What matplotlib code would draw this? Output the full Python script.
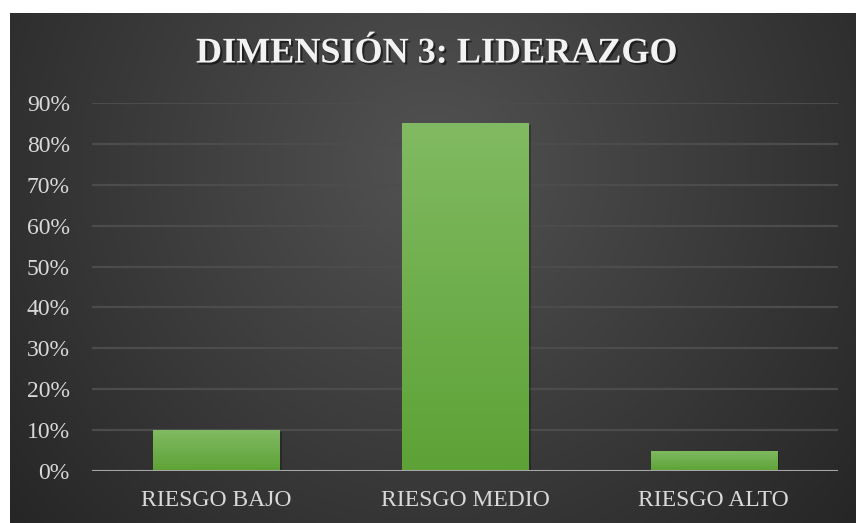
import numpy as np
import matplotlib
matplotlib.use("Agg")
import matplotlib.pyplot as plt
import matplotlib.patheffects as pe
from matplotlib.colors import LinearSegmentedColormap

categories = ["RIESGO BAJO", "RIESGO MEDIO", "RIESGO ALTO"]
values = [0.10, 0.85, 0.05]
yticks = [0, 0.1, 0.2, 0.3, 0.4, 0.5, 0.6, 0.7, 0.8, 0.9]
ytick_labels = ["0%", "10%", "20%", "30%", "40%", "50%", "60%", "70%", "80%", "90%"]
title = "DIMENSIÓN 3: LIDERAZGO"

W, H = 856, 523
fig = plt.figure(figsize=(W / 100, H / 100), dpi=100, facecolor="white")

# dark radial background panel
x0, y0 = 10 / W, 0
bg = fig.add_axes([x0, y0, 1 - x0, (H - 13) / H])
bg.set_axis_off()
nx, ny = 400, 250
xx, yy = np.meshgrid(np.linspace(0, 1, nx), np.linspace(0, 1, ny))
aspect = (W - 10) / (H - 13)
r = np.sqrt(((xx - 0.5) * aspect) ** 2 + (yy - 0.3) ** 2) / np.sqrt((0.5 * aspect) ** 2 + 0.7 ** 2)
r = np.clip(r, 0, 1)
cmap_bg = LinearSegmentedColormap.from_list("bg", ["#525252", "#3c3c3c", "#262626"])
bg.imshow(r, cmap=cmap_bg, aspect="auto", extent=[0, 1, 1, 0], vmin=0, vmax=1)
bg.set_xlim(0, 1)
bg.set_ylim(1, 0)

# plot axes
left, right = 92 / W, 838 / W
bottom, top = 1 - 471 / H, 1 - 103 / H
ax = fig.add_axes([left, bottom, right - left, (top - bottom)])
ax.patch.set_alpha(0)
ax.set_ylim(0, 0.9)
ax.set_xlim(-0.5, 2.5)
ax.set_yticks(yticks)
ax.set_yticklabels(ytick_labels)
ax.set_xticks(range(len(categories)))
ax.set_xticklabels(categories)
for s in ax.spines.values():
    s.set_visible(False)
ax.tick_params(axis="both", length=0, colors="#d9d9d9", labelsize=17)
ax.tick_params(axis="y", pad=16)
ax.tick_params(axis="x", pad=14)
for lab in ax.get_xticklabels() + ax.get_yticklabels():
    lab.set_fontfamily("Liberation Serif")
    lab.set_color("#d9d9d9")
ax.grid(axis="y", color="#4c4c4c", linewidth=1.6)
ax.set_axisbelow(True)
ax.axhline(0, color="#a6a6a6", linewidth=2.2, zorder=4)

bars = ax.bar(range(len(categories)), values, width=0.507, color="#6fb24b", zorder=3,
              path_effects=[pe.SimplePatchShadow(offset=(2, -1), shadow_rgbFace="#000000", alpha=0.25), pe.Normal()])
cmap_bar = LinearSegmentedColormap.from_list("bar", ["#81ba62", "#5da236"])
grad = np.linspace(0, 1, 256).reshape(-1, 1)
for b in bars:
    bx, bw, bh = b.get_x(), b.get_width(), b.get_height()
    im = ax.imshow(grad, cmap=cmap_bar, aspect="auto", extent=[bx, bx + bw, 0, bh],
                   origin="upper", zorder=3.5)
    im.set_clip_path(b)
ax.set_xlim(-0.5, 2.5)
ax.set_ylim(0, 0.9)

fig.text(437 / W, 1 - 54 / H, title, ha="center", va="center", color="#f2f2f2",
         fontsize=26, fontweight="bold", fontfamily="Liberation Serif",
         path_effects=[pe.withSimplePatchShadow(offset=(1.5, -1.5), shadow_rgbFace="black", alpha=0.5)])

fig.savefig("out.png", dpi=100, facecolor="white")
